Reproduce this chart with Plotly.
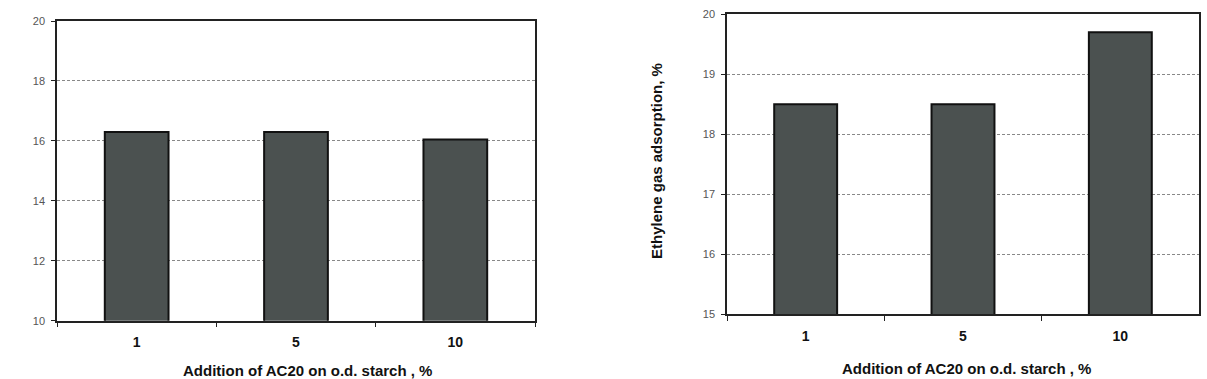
import plotly.graph_objects as go

categories = ["1", "5", "10"]
left_values = [16.3, 16.3, 16.05]
right_values = [18.5, 18.5, 19.7]
left_ticks = [10, 12, 14, 16, 18, 20]
right_ticks = [15, 16, 17, 18, 19, 20]
x_title = "Addition of AC20 on o.d. starch , %"
right_y_title = "Ethylene gas adsorption, %"

W, H = 1207, 379
FONT = "Liberation Sans, Arial, sans-serif"
BAR_COLOR = "#4b5150"

fig = go.Figure()
fig.add_trace(go.Bar(x=categories, y=left_values, xaxis="x", yaxis="y",
                     width=0.4, marker=dict(color=BAR_COLOR, line=dict(color="#111", width=2)),
                     showlegend=False))
fig.add_trace(go.Bar(x=categories, y=right_values, xaxis="x2", yaxis="y2",
                     width=0.4, marker=dict(color=BAR_COLOR, line=dict(color="#111", width=2)),
                     showlegend=False))

def xax(domain, anchor):
    return dict(domain=domain, anchor=anchor, type="category",
                showline=True, linecolor="#222", linewidth=1.5, mirror=True,
                ticks="outside", ticklen=5, tickcolor="#222", tickson="boundaries",
                ticklabelstandoff=8,
                showgrid=False, tickfont=dict(family=FONT, size=14, color="#111", weight="bold"))

def yax(domain, anchor, rng, ticks):
    return dict(domain=domain, anchor=anchor, range=rng, tickvals=ticks,
                showline=True, linecolor="#222", linewidth=1.5, mirror=True,
                ticks="outside", ticklen=4, tickcolor="#222", ticklabelstandoff=4,
                showgrid=True, gridcolor="#888", griddash="3px,2px", gridwidth=1,
                zeroline=False, tickfont=dict(family=FONT, size=11, color="#555"))

TITLE_FONT = dict(family=FONT, size=15, color="#111", weight="bold")

fig.update_layout(
    width=W, height=H, margin=dict(l=0, r=0, t=0, b=0),
    paper_bgcolor="white", plot_bgcolor="white",
    xaxis=xax([57 / W, 535 / W], "y"),
    yaxis=yax([(H - 325) / H, (H - 15.5) / H], "x", [10, 20], left_ticks),
    xaxis2=xax([727 / W, 1199 / W], "y2"),
    yaxis2=yax([(H - 318.5) / H, (H - 8.5) / H], "x2", [15, 20], right_ticks),
    annotations=[
        dict(text=x_title, x=307 / W, y=(H - 376) / H, xref="paper", yref="paper",
             xanchor="center", yanchor="middle", showarrow=False, font=TITLE_FONT),
        dict(text=x_title, x=967 / W, y=(H - 374) / H, xref="paper", yref="paper",
             xanchor="center", yanchor="middle", showarrow=False, font=TITLE_FONT),
        dict(text=right_y_title, x=657 / W, y=(H - 160) / H, xref="paper", yref="paper",
             xanchor="center", yanchor="middle", showarrow=False, textangle=-90,
             font=TITLE_FONT),
    ],
)

fig.write_html("out.html")
